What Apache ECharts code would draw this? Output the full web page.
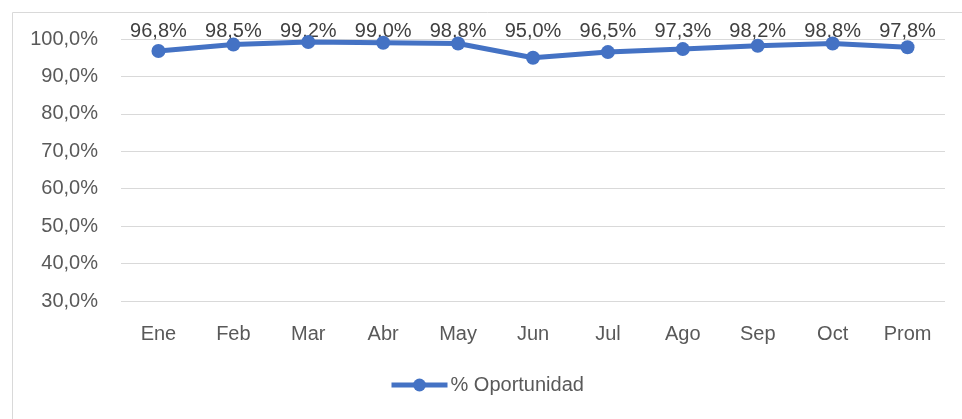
<!DOCTYPE html>
<html>
<head>
<meta charset="utf-8">
<script src="https://cdn.jsdelivr.net/npm/echarts@6/dist/echarts.min.js"></script>
<style>
* { padding: 0; margin: 0; }
body { background: #fff; }
</style>
</head>
<body>
<div id="chart" style="width: 962px; height: 419px"></div>
<script>
var months = ["Ene", "Feb", "Mar", "Abr", "May", "Jun", "Jul", "Ago", "Sep", "Oct", "Prom"];
var oportunidad = [96.8, 98.5, 99.2, 99.0, 98.8, 95.0, 96.5, 97.3, 98.2, 98.8, 97.8];
var yTicks = { min: 30, max: 100, step: 10 };

function pct(v) {
  return v.toFixed(1).replace(".", ",") + "%";
}

var chart = echarts.init(document.getElementById("chart"));
chart.setOption({
  animation: false,
  textStyle: { fontFamily: "Liberation Sans" },
  graphic: [
    {
      type: "rect",
      left: 10,
      top: 10,
      shape: { width: 1000, height: 500 },
      style: { fill: "none", stroke: "#d9d9d9", lineWidth: 1 },
      silent: true,
    },
  ],
  grid: { left: 121, right: 17, top: 39, bottom: 118 },
  legend: {
    bottom: 19,
    left: 384,
    itemWidth: 56,
    itemHeight: 16,
    itemGap: 4,
    lineStyle: { width: 5 },
    textStyle: { color: "#595959", fontSize: 20, padding: [0, 0, 0, -2] },
    data: ["% Oportunidad"],
  },
  xAxis: [
    {
      type: "category",
      data: months,
      axisLine: { show: false },
      axisTick: { show: false },
      axisLabel: { color: "#595959", fontSize: 20, margin: 23 },
    },
    {
      // top row of value labels, one per category
      type: "category",
      position: "top",
      data: oportunidad.map(pct),
      axisLine: { show: false },
      axisTick: { show: false },
      axisLabel: { color: "#404040", fontSize: 20, margin: -2 },
    },
  ],
  yAxis: {
    type: "value",
    min: yTicks.min,
    max: yTicks.max,
    interval: yTicks.step,
    axisLabel: {
      color: "#595959",
      fontSize: 20,
      margin: 23,
      formatter: function (v) {
        return pct(v);
      },
    },
    splitLine: { lineStyle: { color: "#d9d9d9", width: 1 } },
  },
  series: [
    {
      name: "% Oportunidad",
      type: "line",
      data: oportunidad,
      symbol: "circle",
      symbolSize: 14,
      itemStyle: { color: "#4472c4" },
      lineStyle: { color: "#4472c4", width: 5 },
    },
  ],
});
</script>
</body>
</html>
